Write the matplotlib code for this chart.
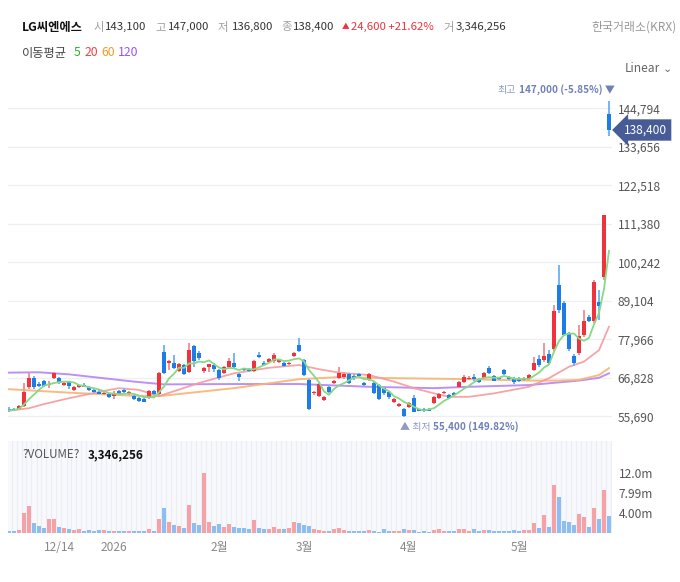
import numpy as np
import pandas as pd
import matplotlib
matplotlib.use("Agg")
import matplotlib.pyplot as plt
from matplotlib.offsetbox import TextArea, HPacker, AnnotationBbox

plt.rcParams['font.family'] = ['Noto Sans CJK KR', 'DejaVu Sans']

# daily candles (index 0 = early Dec 2025, last = late May 2026)
opens = [57800, 57900, 57900, 58600, 64200, 66800, 65000, 65800, 64600, 66800,
         66800, 64800, 65800, 63300, 64000, 64700, 64100, 63300, 62800, 62000,
         62200, 61500, 62900, 63300, 62200, 61500, 61000, 60700, 61000, 62900,
         62000, 74300, 71000, 71200, 68800, 70500, 68600, 75900, 74100, 68800,
         69900, 70600, 69100, 68300, 69800, 71000, 67900, 69300, 69200, 68800,
         73400, 71200, 71500, 71700, 71400, 71200, 70800, 73100, 76200, 72000,
         66200, 62300, 61500, 60400, 64200, 65200, 66700, 67000, 67800, 67300,
         68000, 65200, 66200, 65400, 64600, 63800, 62800, 59900, 58600, 57900,
         58400, 61000, 57700, 57700, 57700, 59400, 61100, 62400, 61800, 62500,
         64200, 65700, 66500, 67100, 66400, 66700, 69600, 67300, 66800, 69000,
         67100, 66700, 66700, 66100, 66400, 69100, 72200, 72000, 73700, 75000,
         93700, 88500, 79700, 73100, 73900, 79200, 84500, 83300, 88800, 96100,
         143100]
highs = [58300, 58200, 58900, 65300, 68300, 67200, 65600, 66200, 66000, 68500,
         67000, 65500, 66000, 64300, 64800, 65200, 64400, 63600, 63200, 62600,
         62500, 63000, 63300, 63800, 62900, 61800, 61200, 61000, 63200, 63200,
         68600, 76300, 72000, 73300, 71000, 70800, 76800, 76200, 74600, 70000,
         70900, 71000, 69400, 70100, 72400, 73900, 68200, 69600, 69500, 72000,
         74200, 71600, 72400, 73900, 72200, 71500, 71400, 74400, 78300, 72300,
         66400, 63100, 65300, 61600, 64600, 66300, 70000, 68600, 68200, 67800,
         68300, 65500, 68100, 65600, 64900, 64100, 63000, 60900, 59500, 58200,
         59700, 61900, 57900, 58000, 58100, 61500, 62300, 63000, 62100, 62800,
         66000, 67500, 67300, 67800, 66700, 68400, 70200, 67700, 67100, 69400,
         67400, 67000, 67000, 66900, 67900, 72800, 73300, 76800, 74900, 87900,
         99500, 89000, 80000, 73600, 82100, 86400, 85000, 95200, 92200, 114000,
         147000]
lows = [57000, 57200, 57700, 58400, 63500, 63500, 64200, 64200, 63800, 66500,
        65000, 64500, 63500, 63100, 63800, 64000, 63100, 62500, 62000, 61700,
        61000, 60800, 62000, 62500, 61900, 60500, 59800, 59700, 60800, 61800,
        61800, 67800, 69200, 69300, 68500, 67500, 68300, 70000, 72000, 68300,
        68600, 68600, 66300, 68000, 69500, 69300, 65900, 68700, 68400, 68500,
        72500, 70200, 71300, 71000, 71100, 70000, 70500, 72800, 74300, 67400,
        57400, 61700, 61200, 60000, 62500, 64900, 66500, 66500, 65000, 66300,
        67000, 64400, 65800, 62200, 60300, 61800, 60800, 59600, 58300, 55400,
        58100, 56800, 57100, 57000, 57100, 59100, 60800, 62200, 60700, 61600,
        64000, 65400, 66300, 66000, 65300, 66400, 67900, 65800, 66300, 67700,
        66100, 65000, 65600, 65900, 66100, 68800, 70000, 71500, 70700, 74500,
        85500, 78900, 74500, 70300, 73500, 78500, 83000, 82800, 83500, 95000,
        136800]
closes = [57400, 57500, 58600, 62800, 66800, 64000, 64500, 64500, 65100, 68300,
          65300, 65200, 64400, 64000, 64600, 64100, 63300, 62800, 62200, 62400,
          61200, 62400, 62200, 62700, 62700, 60700, 60000, 59900, 62900, 62000,
          68300, 68300, 71700, 69600, 70700, 68000, 74800, 71700, 72400, 69600,
          70700, 69400, 66800, 69800, 71700, 70000, 67000, 69000, 68700, 71700,
          72700, 70500, 72100, 73400, 71900, 70300, 71200, 74100, 74600, 67700,
          57700, 62800, 64900, 61300, 62800, 66000, 68100, 68000, 65400, 66700,
          67200, 64700, 67900, 62500, 60800, 62300, 61200, 60600, 59200, 55800,
          59400, 57000, 57300, 57300, 57300, 61200, 62000, 62800, 60900, 61800,
          65700, 67100, 66800, 66400, 65500, 68100, 68100, 66000, 66500, 67900,
          66400, 65700, 65900, 66600, 67600, 71000, 70500, 73100, 71000, 86200,
          86400, 79200, 75000, 71200, 78900, 83300, 83300, 94600, 87600, 113800,
          138400]
volumes_m = [0.33, 0.33, 0.47, 3.9, 5.3, 1.9, 1.3, 0.9, 2.7, 2.7,
             1.2, 0.87, 0.67, 0.53, 0.67, 0.4, 0.47, 0.4, 0.47, 0.53,
             0.33, 0.33, 0.3, 0.3, 0.3, 0.3, 0.3, 0.3, 0.67, 0.4,
             2.7, 4.9, 2.1, 1.5, 1.4, 0.87, 5.5, 1.9, 1.5, 11.9,
             2.1, 1.4, 1.7, 1.1, 1.7, 1.2, 0.87, 0.87, 0.73, 2.5,
             0.87, 0.67, 0.67, 1.1, 0.67, 0.67, 0.87, 2.1, 1.9, 1.5,
             1.3, 0.67, 0.47, 0.33, 0.33, 0.67, 0.87, 0.47, 0.33, 0.33,
             0.33, 0.33, 0.53, 0.33, 0.2, 0.73, 0.4, 0.4, 0.33, 0.73,
             0.53, 0.53, 0.13, 0.27, 0.13, 0.53, 0.73, 0.4, 0.33, 0.4,
             0.67, 0.67, 0.33, 0.67, 0.33, 0.47, 0.47, 0.33, 0.33, 0.4,
             0.4, 0.53, 0.4, 0.53, 0.53, 1.9, 0.87, 3.5, 1.1, 9.5,
             7.2, 2.3, 2.1, 1.5, 3.7, 3.1, 1.1, 4.9, 2.7, 8.5,
             3.346256]

# longer moving averages (index, value)
ma20_idx = [0, 4, 7, 12, 16, 20, 22, 26, 30, 38, 45, 52, 58, 62, 66, 72, 77,
            81, 85, 88, 92, 97, 104, 108, 112, 115, 118, 120]
ma20_val = [57300, 58000, 59200, 60900, 62100, 63300, 63800, 63300, 61500,
            65300, 68100, 69700, 70500, 69300, 68300, 67600, 65700, 63800,
            62300, 61300, 61300, 62300, 64200, 66700, 70000, 71500, 74800, 81600]
ma60_idx = [0, 12, 25, 30, 45, 58, 66, 72, 92, 104, 110, 114, 118, 120]
ma60_val = [63500, 62500, 61600, 61500, 63800, 66400, 67000, 66800, 66400,
            66000, 66000, 66200, 67600, 69600]
ma120_idx = [0, 6, 12, 25, 31, 45, 58, 72, 85, 92, 104, 114, 118, 120]
ma120_val = [68300, 68400, 67800, 65700, 64900, 65000, 65000, 64200, 63800,
             64200, 64700, 66000, 66800, 68100]

price_ticks = [55690, 66828, 77966, 89104, 100242, 111380, 122518, 133656, 144794]
vol_ticks = [4.0, 7.99, 12.0]
vol_tick_labels = ['4.00m', '7.99m', '12.0m']
date_idx = [10, 21, 42, 59, 80, 102]
date_labels = ['12/14', '2026', '2월', '3월', '4월', '5월']

W, H = 680, 582
RED, BLUE = '#f0323c', '#1c7ce8'
RED_W, BLUE_W = '#f59297', '#78b4f4'
RED_V, BLUE_V = '#f4a2a5', '#8cbef4'


def fx(x):
    return x / W


def fy(y):
    return 1 - y / H


def label_row(ax, parts, xy, offset, align):
    # several coloured text pieces packed side by side
    boxes = [TextArea(s, textprops=dict(fontsize=7.2, color=col, fontweight=w))
             for s, col, w in parts]
    row = HPacker(children=boxes, pad=0, sep=2, align='baseline')
    ab = AnnotationBbox(row, xy, xybox=offset, boxcoords='offset points',
                        box_alignment=align, frameon=False, pad=0)
    ax.add_artist(ab)


fig = plt.figure(figsize=(W / 100, H / 100), dpi=100)

n = len(closes)
idx = np.arange(n)
o = np.array(opens)
c = np.array(closes)
up = c >= o

# price panel
ax = fig.add_axes([fx(8), fy(435), fx(604), (435 - 85) / H])
ax.set_xlim(-0.2, 120.6)
ax.set_ylim(50250, 151540)
for t in price_ticks:
    ax.axhline(t, color='#eeeff2', lw=0.9, zorder=0)

ax.plot(ma120_idx, ma120_val, color='#b585f2', lw=1.4, alpha=0.9, zorder=1)
ax.plot(ma60_idx, ma60_val, color='#f7b473', lw=1.4, alpha=0.9, zorder=1)
ax.plot(ma20_idx, ma20_val, color='#f59a9c', lw=1.3, alpha=0.9, zorder=1)

ax.vlines(idx, lows, highs, colors=np.where(up, RED_W, BLUE_W), lw=1.4, zorder=2)
body = np.maximum(np.abs(c - o), 250)
ax.bar(idx, body, bottom=np.minimum(o, c), width=0.62,
       color=np.where(up, RED, BLUE), zorder=3)

ma5 = pd.Series(closes).rolling(5, min_periods=1).mean()
ax.plot(idx, ma5, color='#86d986', lw=1.3, zorder=4)

ax.yaxis.tick_right()
ax.set_yticks(price_ticks)
ax.set_yticklabels([f'{t:,}' for t in price_ticks])
ax.tick_params(axis='y', length=0, pad=4, labelsize=8.6, labelcolor='#555555')
ax.set_xticks([])
for s in ax.spines.values():
    s.set_visible(False)

# high / low markers
hi_i = int(np.argmax(highs))
lo_i = int(np.argmin(lows))
label_row(ax, [('최고', '#8e9bc4', 'normal'),
               ('147,000 (-5.85%) ▼', '#6d80b8', 'bold')],
          (hi_i, highs[hi_i]), (4, 4), (1, 0))
label_row(ax, [('▲ 최저', '#8e9bc4', 'normal'),
               ('55,400 (149.82%)', '#6d80b8', 'bold')],
          (lo_i, lows[lo_i]), (-3, -3), (0, 1))

# last price tag
fig.text(fx(624), fy(130), f'{closes[-1]:,}', color='white', fontsize=8.6,
         va='center', ha='left',
         bbox=dict(boxstyle='larrow,pad=0.35', fc='#475b97', ec='none'))

# volume panel
axv = fig.add_axes([fx(8), fy(532.7), fx(604), (532.7 - 441) / H])
axv.set_xlim(-0.2, 120.6)
axv.set_ylim(0, 18.3)
axv.set_facecolor('#f8f9fc')
for i in idx:
    axv.axvline(i + 0.5, color='#eceef4', lw=0.9, zorder=0)
axv.bar(idx, volumes_m, width=0.62, color=np.where(up, RED_V, BLUE_V), zorder=2)
axv.yaxis.tick_right()
axv.set_yticks(vol_ticks)
axv.set_yticklabels(vol_tick_labels)
axv.tick_params(axis='y', length=0, pad=5, labelsize=8.6, labelcolor='#555555')
axv.set_xticks(date_idx)
axv.set_xticklabels(date_labels)
axv.tick_params(axis='x', length=0, pad=6, labelsize=8.6, labelcolor='#888888')
for s in axv.spines.values():
    s.set_visible(False)
fig.text(fx(22), fy(455), '?VOLUME?', fontsize=8.4, color='#555555', va='center')
fig.text(fx(88), fy(455), '3,346,256', fontsize=8.4, color='#111111',
         va='center', fontweight='bold')

# header
hy = fy(27)
fig.text(fx(22), hy, 'LG씨엔에스', fontsize=8.8, color='#111111', va='center',
         fontweight='bold')
pieces = [(94, '시', '#a0a0a0'), (105, '143,100', '#333333'),
          (155, '고', '#a0a0a0'), (168, '147,000', '#333333'),
          (218, '저', '#a0a0a0'), (232, '136,800', '#333333'),
          (281, '종', '#a0a0a0'), (293, '138,400', '#333333'),
          (342, '▲', '#f0323c'), (351, '24,600 +21.62%', '#f0323c'),
          (443, '거', '#a0a0a0'), (456, '3,346,256', '#333333')]
for x, s, col in pieces:
    fig.text(fx(x), hy, s, fontsize=8.2 if s != '▲' else 5.5, color=col,
             va='center')
fig.text(fx(677), hy, '한국거래소(KRX)', fontsize=8.6, color='#999999',
         va='center', ha='right')

ly = fy(53)
fig.text(fx(22), ly, '이동평균', fontsize=8.8, color='#444444', va='center')
for x, s, col in [(74, '5', '#2cb52c'), (85, '20', '#f0414b'),
                  (101, '60', '#f5982a'), (118, '120', '#9a55f0')]:
    fig.text(fx(x), ly, s, fontsize=8.8, color=col, va='center')
fig.text(fx(660), fy(69), 'Linear', fontsize=8.6, color='#666666',
         va='center', ha='right')
fig.text(fx(672), fy(69), '⌄', fontsize=8, color='#666666',
         va='center', ha='right', family='DejaVu Sans')

fig.savefig('out.png', dpi=100)
